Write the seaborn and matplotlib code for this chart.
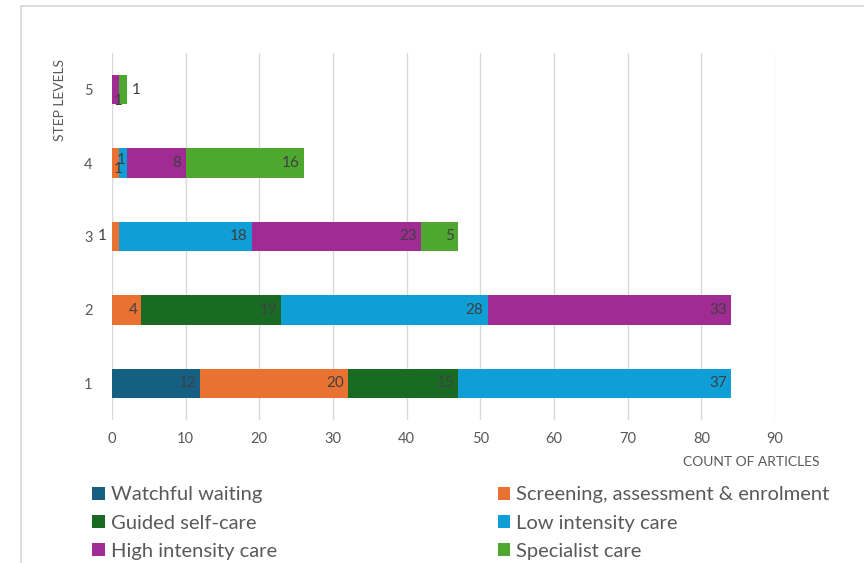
import matplotlib.pyplot as plt
from matplotlib.lines import Line2D
from matplotlib.patches import Patch
import numpy as np
import pandas as pd
import seaborn as sns

# step levels (top to bottom as drawn)
levels = ['5', '4', '3', '2', '1']

series = ['Watchful waiting', 'Screening, assessment & enrolment',
          'Guided self-care', 'Low intensity care',
          'High intensity care', 'Specialist care']
colors = ['#156082', '#E97132', '#196B24', '#0F9ED5', '#A02B93', '#4EA72E']

# counts per level, in the order of `levels`
watchful = [0, 0, 0, 0, 12]
screening = [0, 1, 1, 4, 20]
guided = [0, 0, 0, 19, 15]
low_int = [0, 1, 18, 28, 37]
high_int = [1, 8, 23, 33, 0]
specialist = [1, 16, 5, 0, 0]

values = [watchful, screening, guided, low_int, high_int, specialist]

# label nudges for the narrow segments (points): (level, series idx) -> (dx, dy, ha)
nudges = {
    ('3', 1): (-9, 0, 'right'),
    ('4', 1): (-1, -4, 'center'),
    ('4', 3): (-4, 2, 'center'),
    ('5', 4): (-1, -8, 'center'),
    ('5', 5): (4, 0, 'left'),
}

sns.set_style('white')
plt.rcParams['font.family'] = ['Lato', 'DejaVu Sans']

fig = plt.figure(figsize=(8.64, 5.63), dpi=100)
ax = fig.add_axes([0.1296, 0.254, 0.897 - 0.1296, 0.906 - 0.254])

cum = np.cumsum(np.array(values), axis=0)
# draw totals first, then each cumulative layer on top
for i in range(len(series) - 1, -1, -1):
    df = pd.DataFrame({'level': levels, 'count': cum[i]})
    sns.barplot(data=df, x='count', y='level', order=levels, orient='h',
                color=colors[i], saturation=1, width=0.4, linewidth=0,
                ax=ax)

# data labels at the inside end of each segment
for i in range(len(series)):
    for j, lev in enumerate(levels):
        v = values[i][j]
        if v == 0:
            continue
        dx, dy, ha = nudges.get((lev, i), (-3, 0, 'right'))
        ax.annotate(str(v), (cum[i][j], j), xytext=(dx, dy),
                    textcoords='offset points', ha=ha, va='center',
                    fontsize=11, color='#404040')

ax.set_xlim(0, 90)
ax.set_ylim(4.5, -0.5)
ax.set_xticks(range(0, 91, 10))
ax.xaxis.grid(True, color='#D9D9D9', linewidth=1)
ax.yaxis.grid(False)
ax.set_axisbelow(True)
for s in ax.spines.values():
    s.set_visible(False)
ax.tick_params(axis='x', length=0, pad=9, labelsize=10.5, labelcolor='#595959')
ax.tick_params(axis='y', length=0, pad=14, labelsize=10.5, labelcolor='#595959')
ax.set_xlabel('')
ax.set_ylabel('')

fig.text(0.069, 0.823, 'STEP LEVELS', rotation=90, ha='center', va='center',
         fontsize=10, color='#595959')
fig.text(0.949, 0.179, 'COUNT OF ARTICLES', ha='right', va='center',
         fontsize=10, color='#595959')

# legend, filled row by row like the original
order = [0, 2, 4, 1, 3, 5]
handles = [Patch(facecolor=colors[k], edgecolor='none') for k in order]
labels = [series[k] for k in order]
fig.legend(handles, labels, ncol=2, loc='upper left',
           bbox_to_anchor=(0.107, 0.136), frameon=False, fontsize=14.5,
           labelcolor='#595959', handlelength=0.6, handleheight=0.6,
           handletextpad=0.3, columnspacing=11.0, labelspacing=0.55,
           borderpad=0, borderaxespad=0)

# light frame of the chart area
fig.add_artist(Line2D([0.0243, 0.0243], [0, 0.989], color='#D9D9D9', lw=1.2))
fig.add_artist(Line2D([0.0243, 1], [0.989, 0.989], color='#D9D9D9', lw=1.2))

fig.savefig('out.png', dpi=100)
